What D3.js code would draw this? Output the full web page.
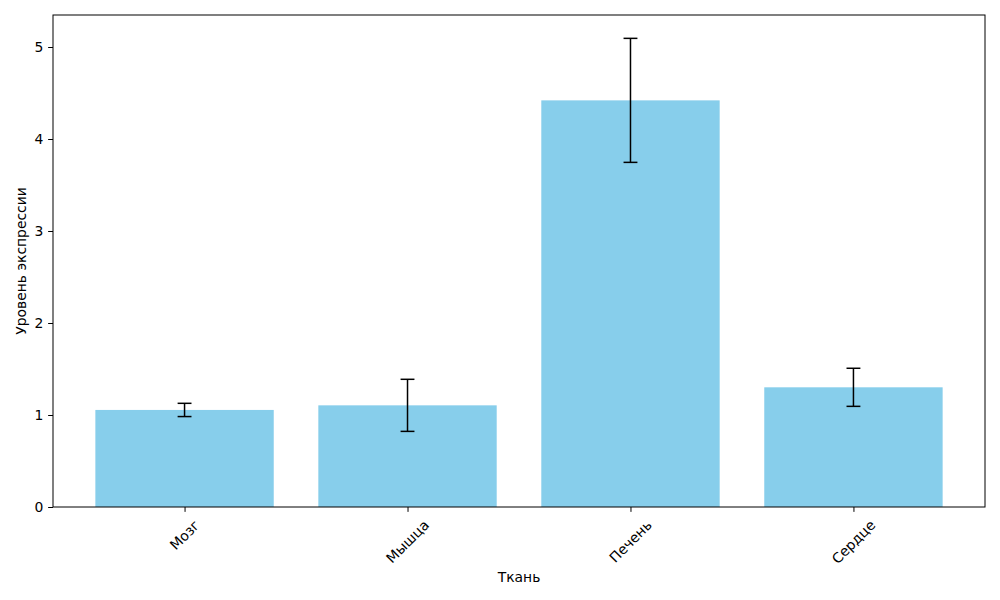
<!DOCTYPE html>
<html><head><meta charset="utf-8">
<script src="https://cdn.jsdelivr.net/npm/d3@7"></script>
<style>body{margin:0;background:#fff}svg{display:block;font-family:"DejaVu Sans",sans-serif}</style>
</head><body><svg id="c" width="1000" height="600"></svg>
<script>
const categories = ["Мозг", "Мышца", "Печень", "Сердце"];
const values = [1.055, 1.105, 4.42, 1.301];
const errors = [0.072, 0.283, 0.674, 0.207];
const yTicks = [0, 1, 2, 3, 4, 5];
const xTitle = "Ткань";
const yTitle = "Уровень экспрессии";

const svg = d3.select("#c");
const L = 53, R = 985, T = 15, B = 507;
const fs = 13.9;

// matplotlib-style linear x: bars at 0..n-1, width 0.8, 5% margins
const n = categories.length;
const lo = -0.4, hi = n - 1 + 0.4, pad = (hi - lo) * 0.05;
const x = d3.scaleLinear().domain([lo - pad, hi + pad]).range([L, R]);
const y = d3.scaleLinear().domain([0, 5.35]).range([B, T]);
// calibrate y so that 5 sits at px 47
y.domain([0, 5 * (B - T) / (B - 47)]);

const g = svg.append("g");
g.selectAll("rect.bar").data(values).join("rect")
  .attr("x", (d, i) => x(i - 0.4)).attr("width", (d, i) => x(i + 0.4) - x(i - 0.4))
  .attr("y", d => y(d)).attr("height", d => y(0) - y(d))
  .attr("fill", "#87ceeb");

const cap = 6.94;
values.forEach((v, i) => {
  const cx = x(i), e = errors[i];
  g.append("line").attr("x1", cx).attr("x2", cx).attr("y1", y(v - e)).attr("y2", y(v + e))
    .attr("stroke", "#000").attr("stroke-width", 1.5);
  [v - e, v + e].forEach(t => g.append("line").attr("x1", cx - cap).attr("x2", cx + cap)
    .attr("y1", y(t)).attr("y2", y(t)).attr("stroke", "#000").attr("stroke-width", 1.5));
});

// frame
svg.append("rect").attr("x", L).attr("y", T).attr("width", R - L).attr("height", B - T)
  .attr("fill", "none").attr("stroke", "#000").attr("stroke-width", 1);

// y axis
const ya = svg.append("g").attr("transform", `translate(${L},0)`)
  .call(d3.axisLeft(y).tickValues(yTicks).tickSize(4.86).tickPadding(4.86).tickFormat(d3.format("d")));
ya.select(".domain").remove();
ya.selectAll("text").attr("font-size", fs).attr("fill", "#000").attr("font-family", "DejaVu Sans");
ya.selectAll("line").attr("stroke", "#000");

// x axis ticks
const xa = svg.append("g").attr("transform", `translate(0,${B})`)
  .call(d3.axisBottom(x).tickValues(d3.range(n)).tickSize(4.86).tickFormat(""));
xa.select(".domain").remove();
xa.selectAll("line").attr("stroke", "#000");

categories.forEach((c, i) => {
  const t = svg.append("text").text(c).attr("font-size", fs).attr("fill", "#000")
    .attr("text-anchor", "middle").attr("dominant-baseline", "central");
  const w = t.node().getComputedTextLength();
  const h = fs * 1.17;
  const bh = (w + h) * Math.SQRT1_2;
  const cy = B + 4.86 + 4.86 + bh / 2;
  t.attr("transform", `translate(${x(i)},${cy}) rotate(-45)`);
});

svg.append("text").text(xTitle).attr("x", (L + R) / 2).attr("y", 582)
  .attr("text-anchor", "middle").attr("font-size", fs).attr("fill", "#000");
svg.append("text").text(yTitle).attr("transform", `translate(26,${(T + B) / 2}) rotate(-90)`)
  .attr("text-anchor", "middle").attr("font-size", fs).attr("fill", "#000");
</script></body></html>
